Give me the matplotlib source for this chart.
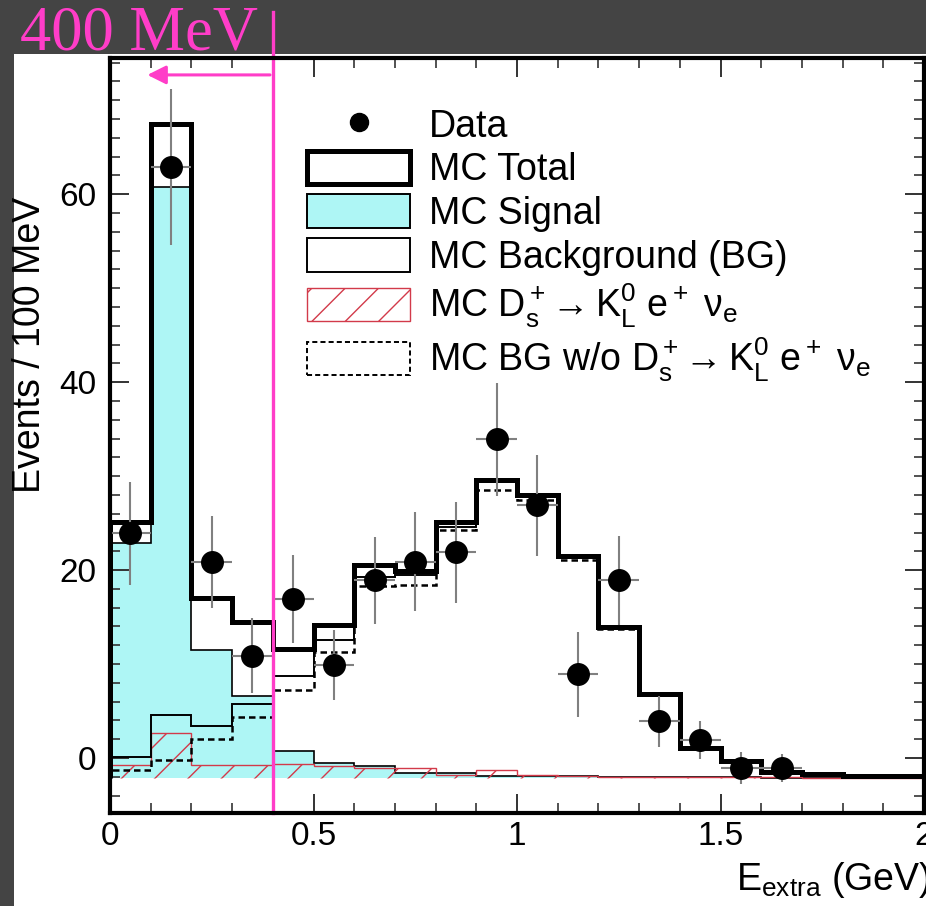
import numpy as np
import matplotlib
matplotlib.use("Agg")
import matplotlib.pyplot as plt
from matplotlib.patches import Patch, Rectangle
from matplotlib.lines import Line2D
from matplotlib.ticker import MultipleLocator, FuncFormatter

plt.rcParams['font.family'] = ['Liberation Sans', 'DejaVu Sans']
plt.rcParams['mathtext.fontset'] = 'custom'
plt.rcParams['mathtext.rm'] = 'Liberation Sans'
plt.rcParams['mathtext.it'] = 'Liberation Sans:italic'
plt.rcParams['hatch.linewidth'] = 1.0

# bin edges of E_extra (GeV), 100 MeV bins
edges = np.round(np.arange(0, 2.01, 0.1), 2)

# MC components (events / 100 MeV)
mc_signal = [25.0, 62.9, 13.6, 8.7, 2.9, 1.6, 1.2, 0.5, 0.5, 0.2,
             0.2, 0.15, 0.1, 0.05, 0.05, 0.03, 0.02, 0.02, 0.01, 0.01]
mc_ds_klenu = [1.4, 4.8, 1.4, 1.4, 1.5, 1.3, 1.0, 1.05, 0.3, 0.85,
               0.3, 0.2, 0.1, 0.1, 0.05, 0.05, 0.03, 0.02, 0.02, 0.01]
mc_bg_other = [0.85, 1.9, 4.1, 6.5, 9.3, 13.4, 20.4, 20.5, 26.4, 30.6,
               29.6, 23.2, 15.8, 8.8, 3.1, 1.7, 0.55, 0.4, 0.2, 0.15]

# data points
data_x = [0.05, 0.15, 0.25, 0.35, 0.45, 0.55, 0.65, 0.75, 0.85,
          0.95, 1.05, 1.15, 1.25, 1.35, 1.45, 1.55, 1.65]
data_y = [26, 65, 23, 13, 19, 12, 21, 23, 24, 36, 29, 11, 21, 6, 4, 1, 1]
data_err = [5.5, 8.3, 4.9, 4.0, 4.7, 3.7, 4.6, 5.3, 5.4, 6.0, 5.4, 4.5,
            4.7, 2.7, 2.0, 1.7, 1.5]

# histogram zero sits a bit below the "0" axis label in the original
y0 = -2.1

sig = np.array(mc_signal)
ds = np.array(mc_ds_klenu)
other = np.array(mc_bg_other)
bg = ds + other
total = sig + bg

cyan = '#aef6f5'
red = '#d23a4a'
magenta = '#ff3dc8'
dash = (0, (2.6, 1.6))

fig = plt.figure(figsize=(9.26, 9.06), dpi=100)
fig.patch.set_facecolor('#444444')
fig.add_artist(Rectangle((14 / 926, 0), 1, 852 / 906, transform=fig.transFigure,
                         facecolor='white', edgecolor='none', zorder=0))

ax = fig.add_axes([110 / 926, 93 / 906, 814 / 926, 755 / 906])

ax.stairs(sig + y0, edges, baseline=y0, fill=True, facecolor=cyan,
          edgecolor='none', zorder=1)
ax.stairs(sig + y0, edges, baseline=y0, color='black', lw=1.2, zorder=2)
ax.stairs(ds + y0, edges, baseline=y0, fill=True, facecolor='none',
          edgecolor=red, hatch='/', lw=1.0, zorder=3)
ax.stairs(other + y0, edges, baseline=y0, color='black', lw=1.8,
          linestyle=dash, zorder=4)
ax.stairs(bg + y0, edges, baseline=y0, color='black', lw=1.4, zorder=5)
ax.stairs(total + y0, edges, baseline=y0, color='black', lw=3.6, zorder=6)

ax.errorbar(data_x, np.array(data_y) + y0, yerr=data_err, xerr=0.05,
            fmt='o', ms=15.5, mfc='black', mec='black', ecolor='#808080',
            elinewidth=1.5, capsize=0, zorder=8)

# 400 MeV cut
ax.axvline(0.4, ymin=0, ymax=(813 - 12) / 755, color=magenta, lw=2.4,
           clip_on=False, zorder=9)
ax.annotate('', xy=(0.085, 72.7), xytext=(0.4, 72.7),
            arrowprops=dict(arrowstyle='-|>', color=magenta, lw=2.2,
                            mutation_scale=28), zorder=9)
fig.text(20 / 926, (906 - 50) / 906, '400 MeV', color=magenta,
         fontsize=45, family='Liberation Serif', va='baseline', ha='left')

ax.set_xlim(0, 2)
ax.set_ylim(-5.85, 74.5)
ax.xaxis.set_major_locator(MultipleLocator(0.5))
ax.xaxis.set_minor_locator(MultipleLocator(0.1))
ax.yaxis.set_major_locator(MultipleLocator(20))
ax.yaxis.set_minor_locator(MultipleLocator(2))
ax.xaxis.set_major_formatter(FuncFormatter(lambda v, p: '%g' % v))
ax.tick_params(which='both', direction='in', top=True, right=True,
               color='#333333', labelsize=24)
ax.tick_params(which='major', length=14, width=1.4)
ax.tick_params(which='minor', length=7, width=1.2)
ax.tick_params(axis='x', pad=6)
ax.tick_params(axis='y', pad=10)
for sp in ax.spines.values():
    sp.set_linewidth(3)
    sp.set_zorder(10)

fig.text(30 / 926, (906 - 345) / 906, 'Events / 100 MeV', rotation=90,
         ha='center', va='center', fontsize=27)
fig.text(736 / 926, (906 - 880) / 906, r'E$_\mathregular{extra}$ (GeV)',
         ha='left', va='center', fontsize=27)

handles = [
    Line2D([], [], marker='o', ls='none', color='black', ms=13),
    Patch(facecolor='white', edgecolor='black', lw=3.6),
    Patch(facecolor=cyan, edgecolor='black', lw=1.4),
    Patch(facecolor='white', edgecolor='black', lw=1.4),
    Patch(facecolor='none', edgecolor=red, hatch='/', lw=1.0),
    Patch(facecolor='white', edgecolor='black', lw=1.4, linestyle=dash),
]
labels = [
    'Data',
    'MC Total',
    'MC Signal',
    'MC Background (BG)',
    r'MC $\mathregular{D_s^+\!\rightarrow K_L^0\ e^+\ \nu_e}$',
    r'MC BG w/o $\mathregular{D_s^+\!\rightarrow K_L^0\ e^+\ \nu_e}$',
]
ax.legend(handles, labels, loc='upper left', bbox_to_anchor=(0.242, 0.935),
          frameon=False, fontsize=27, handlelength=2.75, handleheight=1.0,
          handletextpad=0.5, labelspacing=0.16, borderpad=0, borderaxespad=0)

fig.savefig('out.png', dpi=100, facecolor=fig.get_facecolor())
